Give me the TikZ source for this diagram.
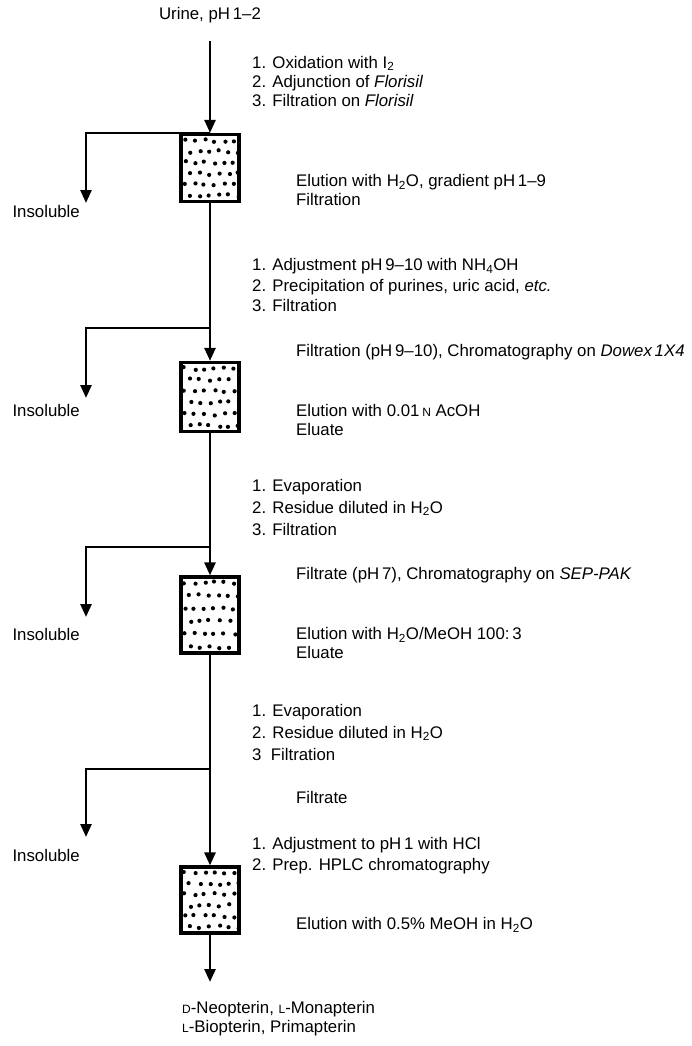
\documentclass[tikz,border=0pt]{standalone}
\usepackage{fontspec}
\setmainfont{Liberation Sans}
\usetikzlibrary{arrows.meta}
\newcommand{\chemsub}[1]{\textsubscript{#1}}
\newcommand{\fakesc}[1]{{\fontsize{12}{12}\selectfont #1}}

\begin{document}
\begin{tikzpicture}[
        x=1pt,
        y=-1pt,
        every node/.style={font=\fontsize{16.8}{19}\selectfont, inner sep=0pt},
        flow/.style={
            line width=2.6pt,
            -{Triangle[width=11pt,length=13pt]}
        },
        column/.style={
            draw,
            line width=3.2pt,
            minimum width=58,
            minimum height=#1,
            path picture={
                \foreach \r in {0,...,5}
                    \foreach \c in {0,...,5} {
                        \pgfmathsetmacro{\dotx}{-25+9.8*\c+4.9*mod(\r,2)+1.5*rand}
                        \pgfmathsetmacro{\doty}{(\r-2.5)*(#1-12)/5+1.5*rand}
                        \fill ([shift={(\dotx,\doty)}]path picture bounding box.center)
                            circle (2.1pt);
                    }
            }
        },
        column/.default=68,
        treat/.style={anchor=west, align=left},
        treatwide/.style={anchor=west, align=left, font=\fontsize{16.8}{22}\selectfont},
        note/.style={anchor=west, align=left}
    ]
        \pgfmathsetseed{42}
        \useasboundingbox (0,0) rectangle (692,1046);

        % Main column: x=210
        \node (urine) at (210,15) {Urine, pH\,1\textendash 2};

        \node[column=67] (col1) at (210,168) {};
        \node[column=69] (col2) at (210,397) {};
        \node[column=76] (col3) at (210,615) {};
        \node[column=66] (col4) at (210,900) {};

        % Junctions and loose ends
        \coordinate (j2) at (210,328);
        \coordinate (j3) at (210,547);
        \coordinate (j4) at (210,769);
        \coordinate (w1) at (86,203);
        \coordinate (w2) at (86,398);
        \coordinate (w3) at (86,617);
        \coordinate (w4) at (86,837);
        \coordinate (last) at (210,982);

        \draw[flow, shorten <=18pt] (urine) -- (col1);
        \draw[flow] (col1) -- (col2);
        \draw[flow] (col2) -- (col3);
        \draw[flow] (col3) -- (col4);
        \draw[flow] (col4) -- (last);

        \draw[flow] (col1.north) -| (w1);
        \draw[flow] (j2) -| (w2);
        \draw[flow] (j3) -| (w3);
        \draw[flow] (j4) -| (w4);

        % Insoluble fractions
        \foreach \k/\y in {1/211,2/410,3/634,4/855}
            \node[anchor=east] (ins\k) at (80,\y) {Insoluble};

        % Step 1
        \node[treat] (treat1) at (252,81)
            {1. Oxidation with I\chemsub{2}\\
             2. Adjunction of \textit{Florisil}\\
             3. Filtration on \textit{Florisil}};
        \node[note] (elu1) at (296,190)
            {Elution with H\chemsub{2}O, gradient pH\,1\textendash 9\\
             Filtration};

        % Step 2
        \node[treat, font=\fontsize{16.8}{20.5}\selectfont] (treat2) at (252,285)
            {1. Adjustment pH\,9\textendash 10 with NH\chemsub{4}OH\\
             2. Precipitation of purines, uric acid, \textit{etc.}\\
             3. Filtration};
        \node[note] (load2) at (296,352)
            {Filtration (pH\,9\textendash 10), Chromatography on \textit{Dowex\,1X4}};
        \node[note] (elu2) at (296,420)
            {Elution with 0.01\,\fakesc{N} AcOH\\
             Eluate};

        % Step 3
        \node[treatwide] (treat3) at (252,507)
            {1. Evaporation\\
             2. Residue diluted in H\chemsub{2}O\\
             3. Filtration};
        \node[note] (load3) at (296,575)
            {Filtrate (pH\,7), Chromatography on \textit{SEP-PAK}};
        \node[note] (elu3) at (296,643)
            {Elution with H\chemsub{2}O/MeOH 100:\,3\\
             Eluate};

        % Step 4
        \node[treatwide] (treat4) at (252,732)
            {1. Evaporation\\
             2. Residue diluted in H\chemsub{2}O\\
             3\ \ Filtration};
        \node[note] (load4) at (296,797) {Filtrate};
        \node[treat, font=\fontsize{16.8}{21}\selectfont] (treat5) at (252,856)
            {1. Adjustment to pH\,1 with HCl\\
             2. Prep. HPLC chromatography};
        \node[note] (elu4) at (296,925)
            {Elution with 0.5\% MeOH in H\chemsub{2}O};

        % Products
        \node[note] (product) at (182,1019)
            {\fakesc{D}-Neopterin, \fakesc{L}-Monapterin\\
             \fakesc{L}-Biopterin, Primapterin};

    \end{tikzpicture}
\end{document}
